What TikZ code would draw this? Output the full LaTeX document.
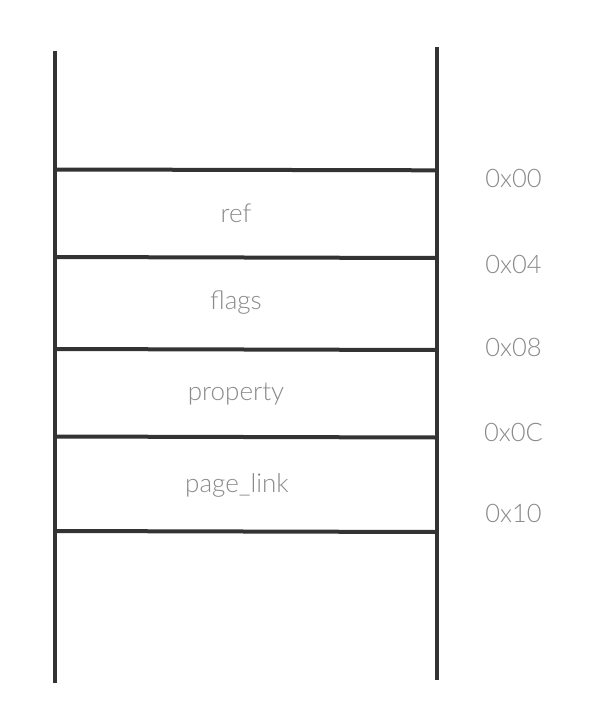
\documentclass[tikz,border=0pt]{standalone}
\usepackage{fontspec}
\IfFontExistsTF{Lato Light}{\setmainfont{Lato Light}}{\setmainfont{Lato}}
\definecolor{linecol}{HTML}{333333}
\definecolor{textcol}{HTML}{8A8A8A}
\tikzset{
  rail/.style={draw=linecol, line width=4pt},
  rung/.style={draw=linecol, line width=4pt},
  field/.style={text=textcol, font=\fontsize{26}{29}\selectfont, anchor=base, inner sep=0pt},
  addr/.style={text=textcol, font=\fontsize{25.5}{29}\selectfont, anchor=base, inner sep=0pt},
}
\begin{document}
\begin{tikzpicture}[x=1pt,y=-1pt]
\useasboundingbox (0,0) rectangle (614,726);
\fill[white] (0,0) rectangle (614,726);
% rails
\coordinate (lt) at (54.7,50.5);
\coordinate (lb) at (54.7,683);
\coordinate (rt) at (437,47);
\coordinate (rb) at (437,680);
\draw[rail] (lt) -- (lb);
\draw[rail] (rt) -- (rb);
% rungs
\coordinate (l1) at (54.7,169.5); \coordinate (r1) at (437,170.3);
\coordinate (l2) at (54.7,257);   \coordinate (r2) at (437,258);
\coordinate (l3) at (54.7,349);   \coordinate (r3) at (437,350);
\coordinate (l4) at (54.7,436.5); \coordinate (r4) at (437,437.5);
\coordinate (l5) at (54.7,531);   \coordinate (r5) at (437,532);
\foreach \i in {1,...,5} {\draw[rung] (l\i) -- (r\i);}
% field labels
\node[field] (ref) at (236,222) {ref};
\node[field] (flags) at (236,309) {flags};
\node[field] (property) at (236,400) {property};
\node[field] (pagelink) at (237,492) {page\_link};
% addresses
\node[addr] (a0) at (513.5,187) {0x00};
\node[addr] (a4) at (513.5,273) {0x04};
\node[addr] (a8) at (513.5,356) {0x08};
\node[addr] (ac) at (513.5,441) {0x0C};
\node[addr] (a10) at (513.5,522) {0x10};
\end{tikzpicture}
\end{document}
